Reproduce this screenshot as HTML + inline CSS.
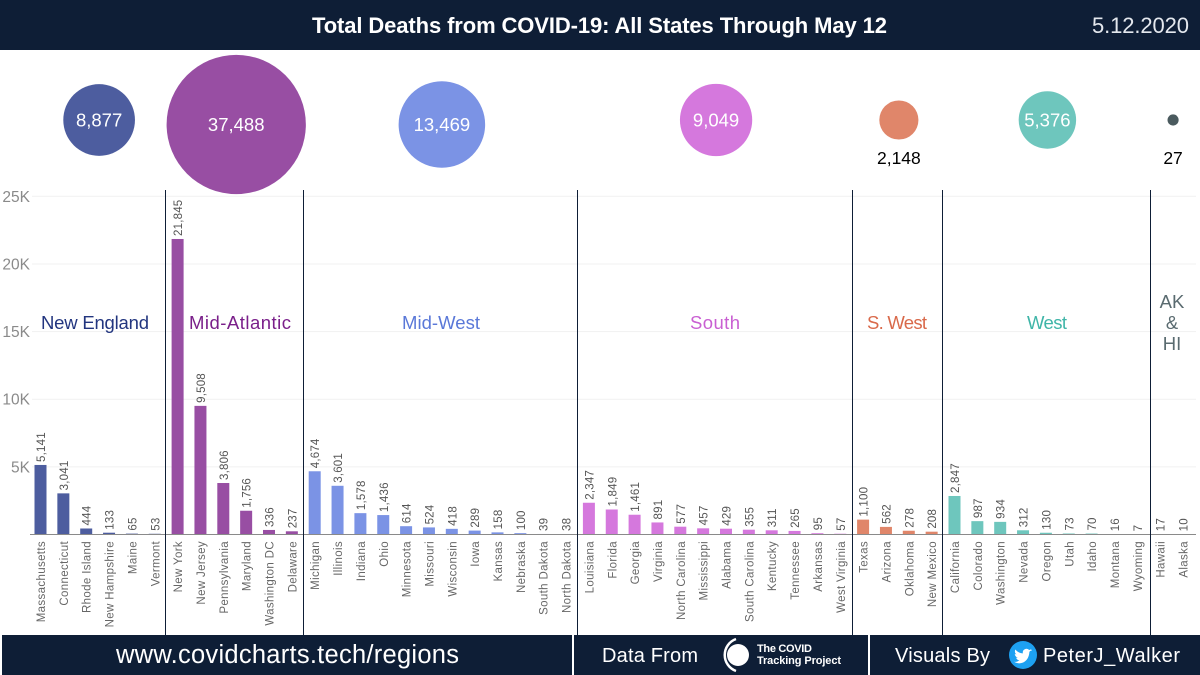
<!DOCTYPE html>
<html lang="en">
<head>
<meta charset="utf-8">
<title>Total Deaths from COVID-19: All States Through May 12</title>
<style>
html,body{margin:0;padding:0;background:#fff;width:1200px;height:675px;overflow:hidden}
svg{display:block;font-family:"Liberation Sans",sans-serif}
</style>
</head>
<body>
<svg id="chart" width="1200" height="675" viewBox="0 0 1200 675" xmlns="http://www.w3.org/2000/svg">
  <rect width="1200" height="675" fill="#fff"/>
  <rect width="1200" height="50" fill="#0e1e36"/>
  <text x="312" y="33" font-size="22" font-weight="700" fill="#fff" textLength="575" lengthAdjust="spacing">Total Deaths from COVID-19: All States Through May 12</text>
  <text x="1092" y="33" font-size="22" fill="#e4e8ee" textLength="97" lengthAdjust="spacing">5.12.2020</text>

  <g id="grid"></g>
  <g id="yticks"></g>
  <g id="bars"></g>
  <g id="bubbles"></g>

  <g stroke="#0e1e36" stroke-width="1">
    <line x1="165.5" x2="165.5" y1="190" y2="635"/>
    <line x1="303.5" x2="303.5" y1="190" y2="635"/>
    <line x1="577.5" x2="577.5" y1="190" y2="635"/>
    <line x1="852.5" x2="852.5" y1="190" y2="635"/>
    <line x1="942.5" x2="942.5" y1="190" y2="635"/>
    <line x1="1150.5" x2="1150.5" y1="190" y2="635"/>
  </g>

  <g font-size="18.5" text-anchor="middle">
    <text x="95" y="329" fill="#22357f" textLength="108" lengthAdjust="spacing">New England</text>
    <text x="240" y="329" fill="#7a1f8a" textLength="102" lengthAdjust="spacing">Mid-Atlantic</text>
    <text x="441" y="329" fill="#5a78d8" textLength="78" lengthAdjust="spacing">Mid-West</text>
    <text x="715" y="329" fill="#c95fd2" textLength="50" lengthAdjust="spacing">South</text>
    <text x="897" y="329" fill="#d9694a" textLength="60" lengthAdjust="spacing">S. West</text>
    <text x="1047" y="329" fill="#3fb5a8" textLength="40" lengthAdjust="spacing">West</text>
    <text x="1172" y="308" fill="#5a6b70">AK</text>
    <text x="1172" y="329" fill="#5a6b70">&amp;</text>
    <text x="1172" y="350" fill="#5a6b70">HI</text>
  </g>

  <g>
    <rect x="2" y="635" width="570" height="40" fill="#0e1e36"/>
    <rect x="574" y="635" width="294" height="40" fill="#0e1e36"/>
    <rect x="870" y="635" width="330" height="40" fill="#0e1e36"/>
    <text x="116" y="663" font-size="25.5" fill="#fff" textLength="343" lengthAdjust="spacing">www.covidcharts.tech/regions</text>
    <text x="602" y="662" font-size="20" fill="#fff" textLength="96" lengthAdjust="spacing">Data From</text>
    <g>
      <circle cx="738" cy="655" r="11" fill="#fff"/>
      <path d="M736 639 A17 17 0 0 0 736 671" fill="none" stroke="#fff" stroke-width="2.5"/>
    </g>
    <text x="757" y="652" font-size="11" font-weight="700" fill="#fff" textLength="55" lengthAdjust="spacing">The COVID</text>
    <text x="757" y="664" font-size="11" font-weight="700" fill="#fff" textLength="84" lengthAdjust="spacing">Tracking Project</text>
    <text x="895" y="662" font-size="20" fill="#fff" textLength="95" lengthAdjust="spacing">Visuals By</text>
    <g>
      <circle cx="1023" cy="655" r="14" fill="#1da1f2"/>
      <path fill="#fff" d="M1032 650.5c-.7.3-1.4.5-2.1.6.8-.5 1.3-1.2 1.6-2-.7.4-1.5.7-2.3.9a3.7 3.7 0 0 0-6.3 3.4c-3-.2-5.7-1.6-7.5-3.9-1 1.7-.5 3.8 1.1 4.9-.6 0-1.2-.2-1.7-.5 0 1.8 1.3 3.3 3 3.7-.5.1-1.1.2-1.7.1.5 1.5 1.8 2.5 3.4 2.6a7.4 7.4 0 0 1-5.5 1.5c5.6 3.6 14.9 1 15.4-10 .7-.5 1.3-1.1 1.8-1.8z"/>
    </g>
    <text x="1043" y="662" font-size="20" fill="#fff" textLength="137" lengthAdjust="spacing">PeterJ_Walker</text>
  </g>
</svg>
<script>
const regionNames = ["New England","Mid-Atlantic","Mid-West","South","S. West","West","AK & HI"];
const regionTotals = [8877,37488,13469,9049,2148,5376,27];
const regionColors = ["#4d5d9f","#984ea3","#7b93e5","#d578dd","#e0866a","#6ec6bd","#4a5a5e"];
const stateNames = ["Massachusetts","Connecticut","Rhode Island","New Hampshire","Maine","Vermont",
"New York","New Jersey","Pennsylvania","Maryland","Washington DC","Delaware",
"Michigan","Illinois","Indiana","Ohio","Minnesota","Missouri","Wisconsin","Iowa","Kansas","Nebraska","South Dakota","North Dakota",
"Louisiana","Florida","Georgia","Virginia","North Carolina","Mississippi","Alabama","South Carolina","Kentucky","Tennessee","Arkansas","West Virginia",
"Texas","Arizona","Oklahoma","New Mexico",
"California","Colorado","Washington","Nevada","Oregon","Utah","Idaho","Montana","Wyoming",
"Hawaii","Alaska"];
const stateDeaths = [5141,3041,444,133,65,53,
21845,9508,3806,1756,336,237,
4674,3601,1578,1436,614,524,418,289,158,100,39,38,
2347,1849,1461,891,577,457,429,355,311,265,95,57,
1100,562,278,208,
2847,987,934,312,130,73,70,16,7,
17,10];
const stateRegion = [0,0,0,0,0,0,1,1,1,1,1,1,
2,2,2,2,2,2,2,2,2,2,2,2,
3,3,3,3,3,3,3,3,3,3,3,3,
4,4,4,4,
5,5,5,5,5,5,5,5,5,
6,6];
const yTicks = [0,5000,10000,15000,20000,25000];
const yTickLabels = ["","5K","10K","15K","20K","25K"];

const NS = "http://www.w3.org/2000/svg";
function make(tag, attrs, parent, text) {
  const el = document.createElementNS(NS, tag);
  for (const k in attrs) el.setAttribute(k, attrs[k]);
  if (text !== undefined) el.textContent = text;
  parent.appendChild(el);
  return el;
}
function slug(s) { return s.toLowerCase().replace(/[^a-z0-9]+/g, "-"); }
const fmt = v => v.toLocaleString("en-US");
const yScale = v => 534.5 - v * 338.2 / 25000;
const xScale = i => 40.5 + i * 22.85;
const rScale = v => 3.8 + 0.34 * Math.sqrt(v);

const grid = document.getElementById("grid");
const yticks = document.getElementById("yticks");
yTicks.forEach((t, i) => {
  if (t === 0) return;
  const ln = make("line", {x1:32, x2:1196, y1:yScale(t), y2:yScale(t), stroke:"#f1f1f1", "stroke-width":1}, grid);
  
  
  const tx = make("text", {x:30, y:yScale(t)+5.5, "text-anchor":"end", "font-size":15.5, fill:"#8a8a8a"}, yticks, yTickLabels[i]);
  
  
});

const bars = document.getElementById("bars");
stateNames.forEach((name, i) => {
  const v = stateDeaths[i], x = xScale(i), y = yScale(v);
  const bar = make("rect", {x:x-6, y:y, width:12, height:Math.max(534.5-y, 0), fill:regionColors[stateRegion[i]]}, bars);
  
  
  const lab = make("text", {transform:`translate(${x+4.5},${y-3}) rotate(-90)`, "font-size":11.5, fill:"#555", "letter-spacing":0.2}, bars, fmt(v));
  
  
  const st = make("text", {transform:`translate(${x+4.5},541) rotate(-90)`, "text-anchor":"end", "font-size":11.5, fill:"#666", "letter-spacing":0.35}, bars, name);
  
  
});
const baseline = make("line", {x1:30, x2:1196, y1:534.5, y2:534.5, stroke:"#8a8a8a", "stroke-width":1}, bars);



const bubbles = document.getElementById("bubbles");
regionTotals.forEach((v, i) => {
  const idx = stateRegion.map((r, k) => r === i ? k : -1).filter(k => k >= 0);
  const cx = (xScale(idx[0]) + xScale(idx[idx.length-1])) / 2 + 1.5;
  const cy = v > 10000 ? 124.5 : 120;
  const r = rScale(v);
  const c = make("circle", {cx:cx, cy:cy, r:r, fill:regionColors[i]}, bubbles);
  
  
  const inside = r > 25;
  const t = make("text", {x:cx, y:inside ? cy+6.5 : 164, "text-anchor":"middle", "font-size":inside ? 18.5 : 17.5, fill:inside ? "#fff" : "#000"}, bubbles, fmt(v));
  
  
});
</script>
</body>
</html>
